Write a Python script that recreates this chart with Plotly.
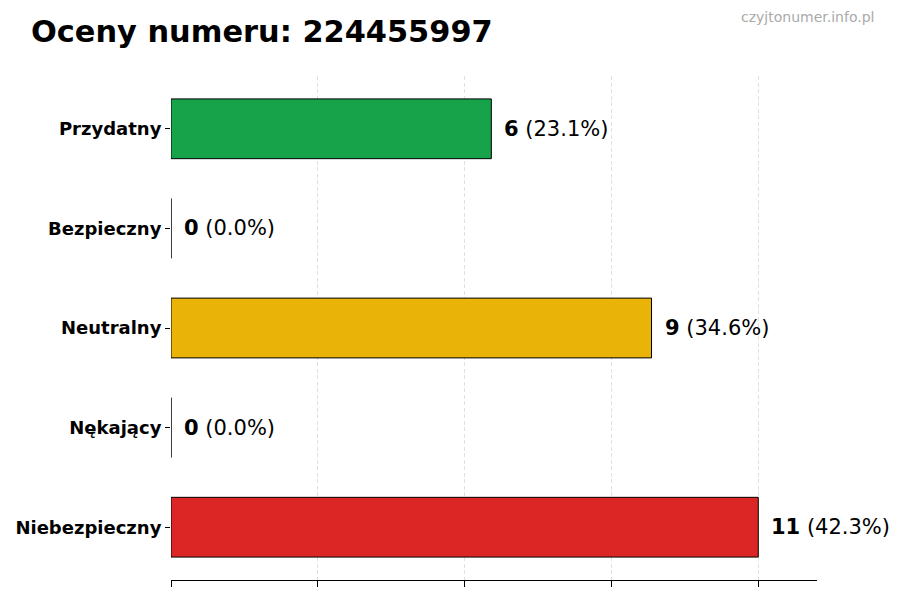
import plotly.graph_objects as go

categories = ["Przydatny", "Bezpieczny", "Neutralny", "Nękający", "Niebezpieczny"]
counts = [6, 0, 9, 0, 11]
colors = ["#16a34a", "#2563eb", "#eab308", "#9333ea", "#dc2626"]
tick_values = [0, 2.75, 5.5, 8.25, 11]

total = sum(counts)
ypos = list(range(len(categories) - 1, -1, -1))

# page body has an 8px offset; plot area in page coords: x 171..817, y 76..580
OFF = 8
L, R, T, B = 171 - OFF, 900 - 817 + OFF, 76 - OFF, 600 - 580 + OFF
PW = 900 - L - R
PH = 600 - T - B

fig = go.Figure()
fig.add_trace(go.Bar(
    x=counts, y=ypos, orientation="h", width=0.6,
    marker=dict(color=colors, line=dict(color="#000000", width=1)),
    hoverinfo="skip",
))

for c, y in zip(counts, ypos):
    pct = 100 * c / total
    fig.add_annotation(
        x=c, y=y, xref="x", yref="y",
        text=f"<b>{c}</b> ({pct:.1f}%)",
        showarrow=False, xanchor="left", yanchor="middle", xshift=11,
        font=dict(family="DejaVu Sans", size=21, color="#000000"),
    )

fig.add_annotation(
    x=(876 - OFF - L) / PW, y=(600 - B - (17 - OFF)) / PH, xref="paper", yref="paper",
    text="czyjtonumer.info.pl", showarrow=False, xanchor="right", yanchor="middle",
    font=dict(family="DejaVu Sans", size=14, color="#aaaaaa"),
)

fig.update_layout(
    width=900, height=600,
    margin=dict(l=L, r=R, t=T, b=B, autoexpand=False),
    paper_bgcolor="white", plot_bgcolor="white",
    showlegend=False,
    title=dict(
        text="<b>Oceny numeru: 224455997</b>", x=(31 - OFF) / 900, xanchor="left",
        y=1 - (31 - OFF) / 600, yanchor="middle",
        font=dict(family="DejaVu Sans", size=30.4, color="#000000"),
    ),
)

fig.update_xaxes(
    range=[0, 12.1], tickvals=tick_values, showticklabels=False,
    ticks="outside", ticklen=6, tickcolor="#000000",
    showline=True, linecolor="#000000", linewidth=1,
    showgrid=True, gridcolor="#e0e0e0", griddash="4px,2.5px", gridwidth=1,
    zeroline=False, layer="above traces", fixedrange=True, automargin=False,
)
fig.update_yaxes(
    range=[-0.53, 4.53], tickvals=ypos, ticktext=[f"<b>{c}</b>" for c in categories],
    ticks="outside", ticklen=5, tickcolor="#000000",
    tickfont=dict(family="DejaVu Sans", size=18, color="#000000"),
    showline=False, showgrid=False, zeroline=False, fixedrange=True, automargin=False,
)

fig.write_html("out.html")
